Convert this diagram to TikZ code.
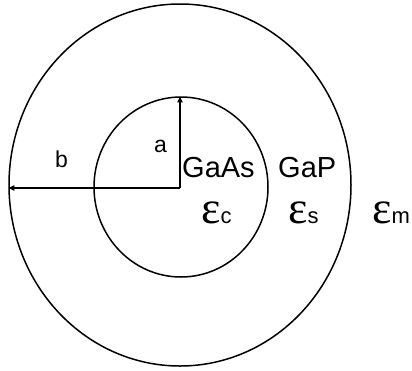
\documentclass[tikz,border=0pt]{standalone}
\usepackage{fontspec}
\setmainfont{Liberation Sans}
\newfontfamily\epsfont{Liberation Serif}
\usetikzlibrary{arrows.meta,shapes.geometric}
\tikzset{
  ring/.style={draw, ellipse, line width=1.5pt, inner sep=0pt},
  radius arrow/.style={line width=1.5pt, -{Triangle[length=6pt,width=5pt]}},
  lab/.style={inner sep=0pt, anchor=base west, font=\fontsize{23}{23}\selectfont},
  mat/.style={inner sep=0pt, anchor=base west, font=\fontsize{29}{29}\selectfont},
  perm/.style={inner sep=0pt, anchor=base west}
}
\newcommand{\permlab}[1]{{\epsfont\fontsize{46}{46}\selectfont ε}{\fontsize{22}{22}\selectfont #1}}
\begin{document}
\begin{tikzpicture}[x=1pt,y=-1pt]
  \useasboundingbox (0,0) rectangle (412,370);
  \node[ring, minimum width=342pt, minimum height=362pt] (outer) at (180,185) {};
  \node[ring, minimum width=174pt, minimum height=180pt] (inner) at (181,187) {};
  \coordinate (o) at (180,188);
  \draw[radius arrow] (o) -- (o |- inner.north);
  \draw[radius arrow] (o) -- (o -| outer.west);
  \node[lab] (a) at (154,152) {a};
  \node[lab] (b) at (55,167) {b};
  \node[mat] (gaas) at (182,177) {GaAs};
  \node[mat] (gap) at (278,177) {GaP};
  \node[perm] (ec) at (201,223) {\permlab{c}};
  \node[perm] (es) at (288,223) {\permlab{s}};
  \node[perm] (em) at (372,223) {\permlab{m}};
\end{tikzpicture}
\end{document}
